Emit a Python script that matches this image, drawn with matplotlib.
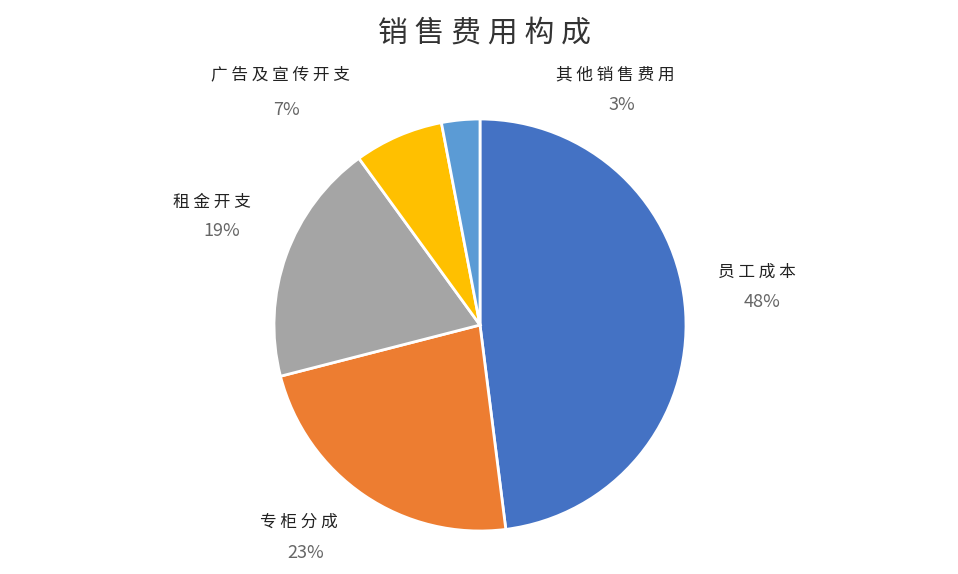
import matplotlib
matplotlib.use('Agg')
from matplotlib import pyplot as plt

plt.rcParams['font.family'] = ['Noto Sans CJK SC', 'DejaVu Sans']

categories = ['员工成本', '专柜分成', '租金开支', '广告及宣传开支', '其他销售费用']
shares = [48, 23, 19, 7, 3]
colors = ['#4472C4', '#ED7D31', '#A5A5A5', '#FFC000', '#5B9BD5']
# label anchor points in pixels: (name x, name y, pct x, pct y)
label_px = [(757, 272, 762, 302), (299, 522, 306, 553), (212, 202, 222, 231),
            (280, 75, 287, 110), (615, 75, 622, 105)]

fig = plt.figure(figsize=(9.58, 5.74), dpi=100)
ax = fig.add_axes([0, 0, 1, 1])
r = 206.0
cx, cy = 480, 325
ax.pie(shares, colors=colors, startangle=90, counterclock=False, radius=1,
       wedgeprops=dict(edgecolor='white', linewidth=2))
ax.set_xlim(-cx / r, (958 - cx) / r)
ax.set_ylim(-(574 - cy) / r, cy / r)
ax.set_aspect('equal')
ax.axis('off')

def to_data(px, py):
    return (px - cx) / r, (cy - py) / r

for name, val, (nx, ny, px, py) in zip(categories, shares, label_px):
    x, y = to_data(nx, ny)
    ax.text(x, y, ' '.join(name), ha='center', va='center', fontsize=12, color='#222222')
    x, y = to_data(px, py)
    ax.text(x, y, f'{val}%', ha='center', va='center', fontsize=13, color='#666666')

x, y = to_data(485, 33)
ax.text(x, y, ' '.join('销售费用构成'), ha='center', va='center', fontsize=21.5, color='#333333')

fig.savefig('out.png', dpi=100, facecolor='white')
